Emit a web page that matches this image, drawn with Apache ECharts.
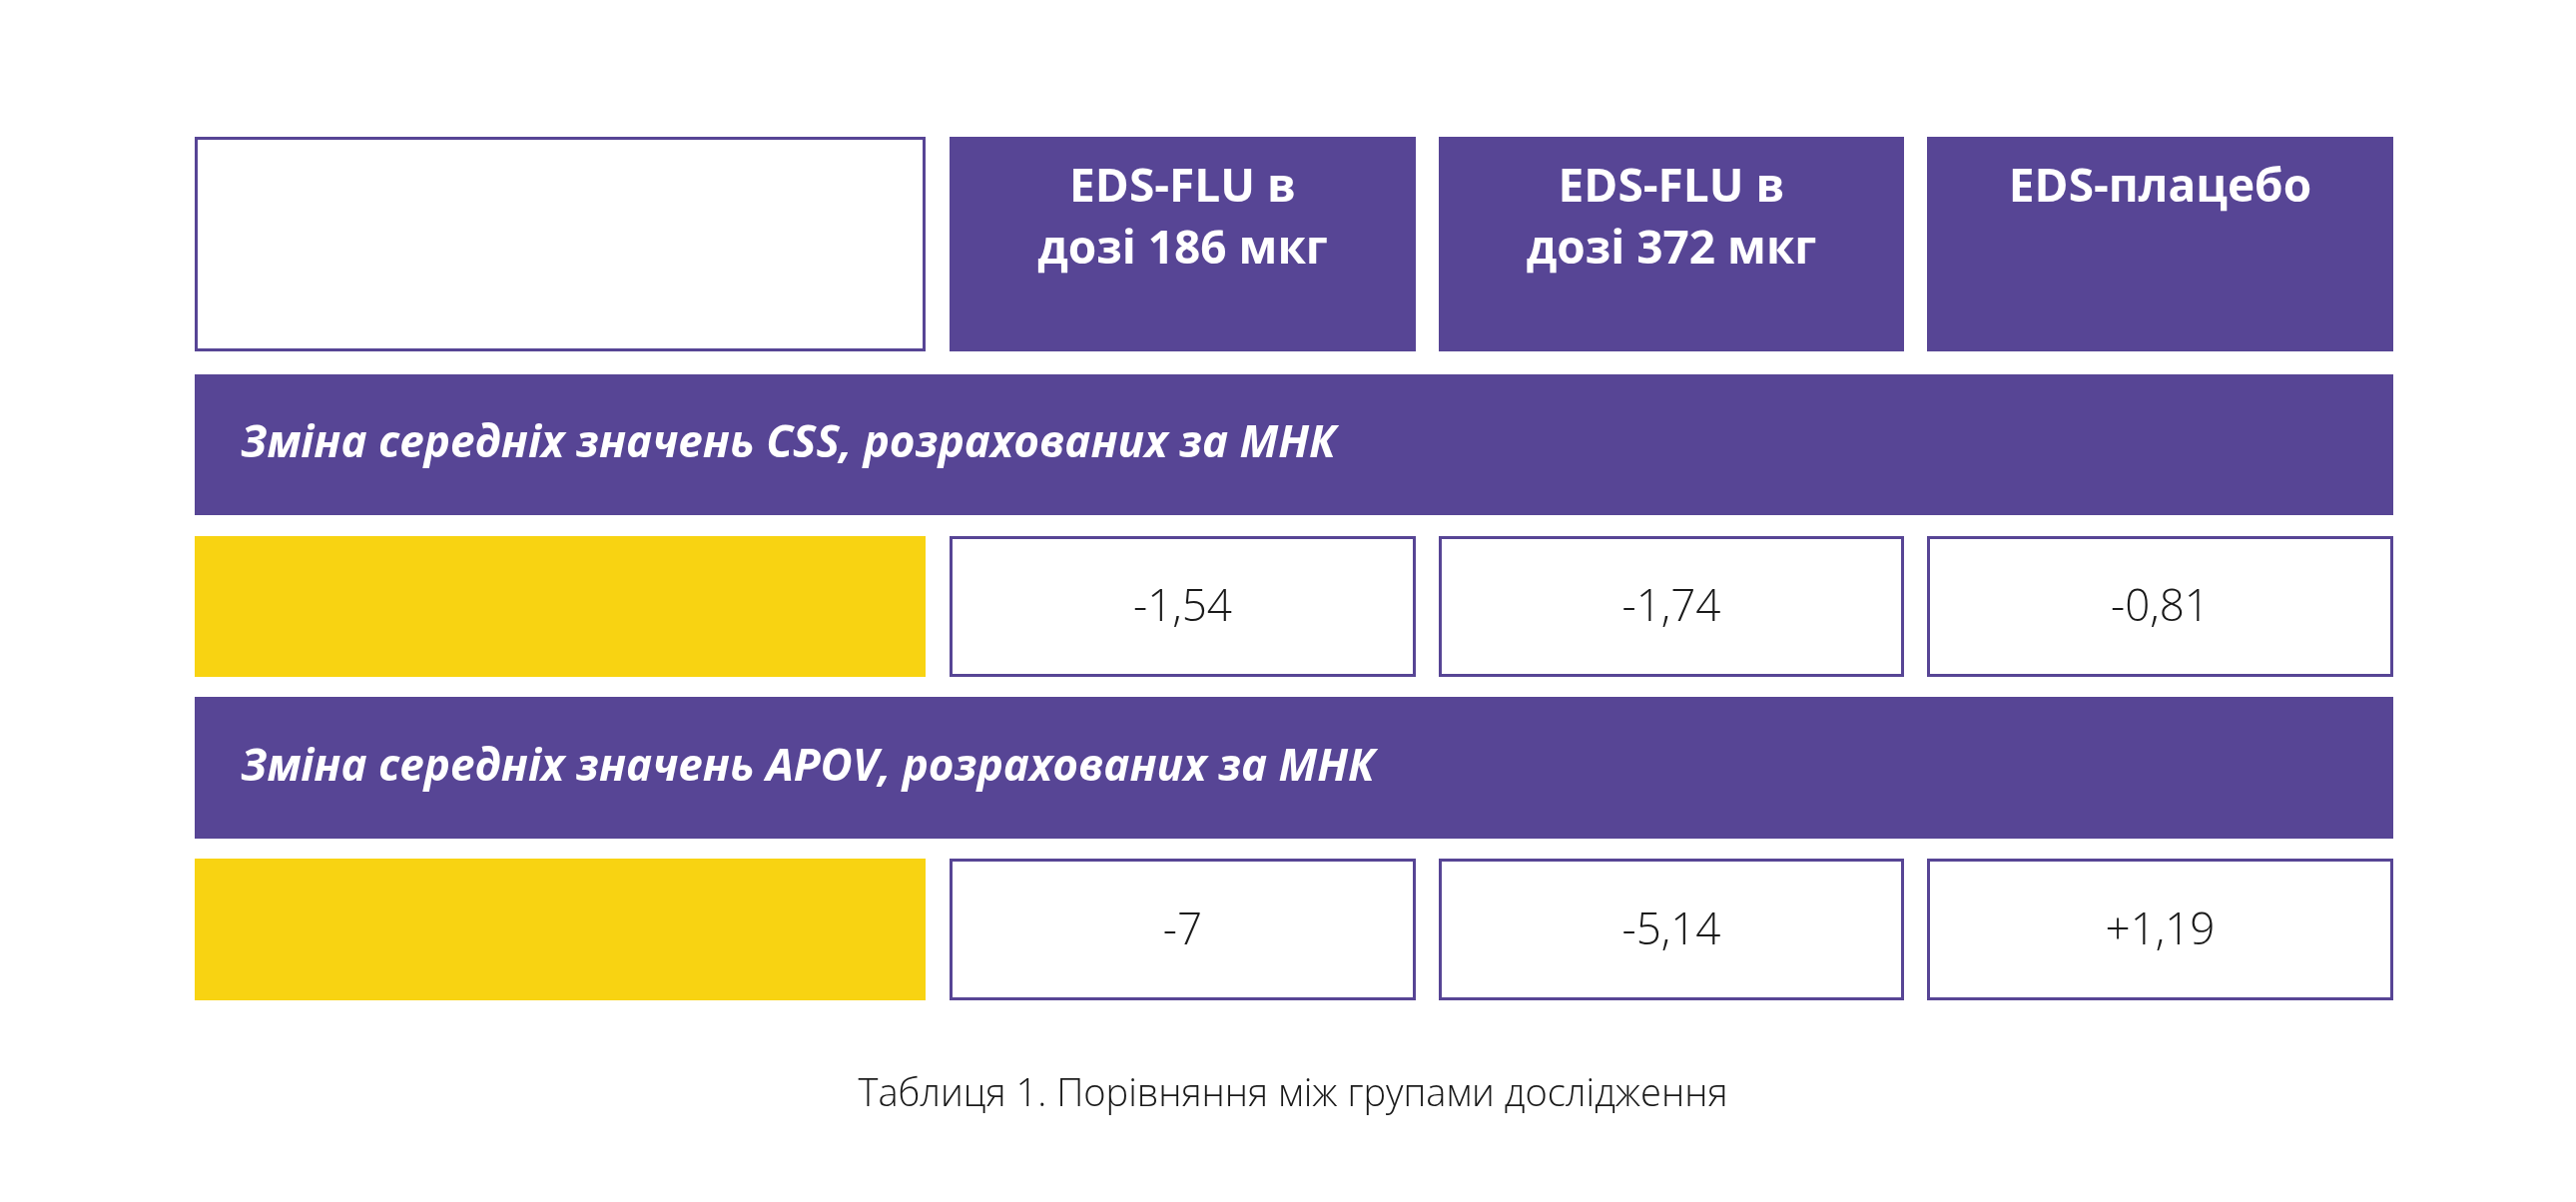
<!DOCTYPE html>
<html>
<head>
<meta charset="utf-8">
<script src="https://cdn.jsdelivr.net/npm/echarts@6/dist/echarts.min.js"></script>
<style>
  html, body { margin: 0; padding: 0; background: #fff; }
  #main { width: 2580px; height: 1204px; }
</style>
</head>
<body>
<div id="main"></div>
<script>
// table contents
var columnHeaders = [['EDS-FLU в', 'дозі 186 мкг'], ['EDS-FLU в', 'дозі 372 мкг'], ['EDS-плацебо']];
var sectionTitles = ['Зміна середніх значень CSS, розрахованих за МНК', 'Зміна середніх значень APOV, розрахованих за МНК'];
var cssValues = ['-1,54', '-1,74', '-0,81'];
var apovValues = ['-7', '-5,14', '+1,19'];
var caption = 'Таблиця 1. Порівняння між групами дослідження';

var PURPLE = '#574595';
var YELLOW = '#F8D312';

// layout
var colX = [[195, 927], [951, 1418], [1441, 1907], [1930, 2397]];
var headerY = [137, 352];
var bandY = [[375, 516], [698, 840]];
var rowY = [[537, 678], [860, 1002]];

var chart = echarts.init(document.getElementById('main'));
var els = [];

function rect(x0, y0, x1, y1, fill, stroke) {
  els.push({
    type: 'rect',
    shape: { x: x0, y: y0, width: x1 - x0, height: y1 - y0 },
    style: { fill: fill, stroke: stroke || null, lineWidth: stroke ? 3 : 0 }
  });
}
function text(x, y, s, font, align, color) {
  els.push({
    type: 'text', x: x, y: y,
    style: { text: s, font: font, fill: color || '#222', align: align || 'center', verticalAlign: 'middle' }
  });
}

// header row
rect(colX[0][0] + 1.5, headerY[0] + 1.5, colX[0][1] - 1.5, headerY[1] - 1.5, '#fff', PURPLE);
for (var i = 0; i < columnHeaders.length; i++) {
  var c = colX[i + 1];
  rect(c[0], headerY[0], c[1], headerY[1], PURPLE);
  var lines = columnHeaders[i];
  for (var j = 0; j < lines.length; j++) {
    text((c[0] + c[1]) / 2, 189 + j * 62, lines[j], 'bold 46px "Open Sans"', 'center', '#fff');
  }
}

// sections
var sectionValues = [cssValues, apovValues];
for (var s = 0; s < sectionTitles.length; s++) {
  rect(colX[0][0], bandY[s][0], colX[3][1], bandY[s][1], PURPLE);
  text(241, (bandY[s][0] + bandY[s][1]) / 2, sectionTitles[s], 'italic bold 44px "Open Sans"', 'left', '#fff');
  rect(colX[0][0], rowY[s][0], colX[0][1], rowY[s][1], YELLOW);
  for (var k = 0; k < 3; k++) {
    var cc = colX[k + 1];
    rect(cc[0] + 1.5, rowY[s][0] + 1.5, cc[1] - 1.5, rowY[s][1] - 1.5, '#fff', PURPLE);
    text((cc[0] + cc[1]) / 2, (rowY[s][0] + rowY[s][1]) / 2 + 2, sectionValues[s][k], '300 44px "Open Sans"', 'center', '#1a1a1a');
  }
}

text(1295, 1097, caption, '300 38px "Open Sans"', 'center', '#1a1a1a');

chart.setOption({ animation: false, graphic: { elements: els } });
</script>
</body>
</html>
